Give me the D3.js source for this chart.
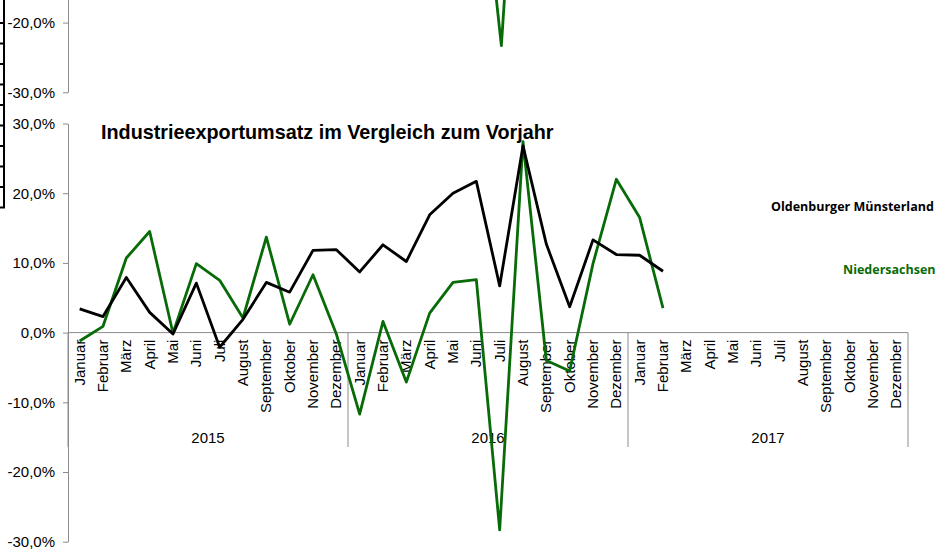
<!DOCTYPE html>
<html>
<head>
<meta charset="utf-8">
<script src="https://cdn.jsdelivr.net/npm/d3@7"></script>
<style>
  body { margin: 0; background: #fff; }
  svg { display: block; }
</style>
</head>
<body>
<svg id="chart" width="936" height="552"></svg>
<script>
// monate und jahre (mehrstufige kategorieachse)
const months = ["Januar", "Februar", "März", "April", "Mai", "Juni", "Juli",
  "August", "September", "Oktober", "November", "Dezember"];
const years = ["2015", "2016", "2017"];

// veränderung ggü. vorjahr in %, jan 2015 - feb 2017
const oldenburg = [3.4, 2.3, 7.9, 2.9, -0.2, 7.1, -2.1, 1.9, 7.2, 5.8, 11.8, 11.9,
  8.7, 12.6, 10.2, 16.9, 20.0, 21.7, 6.7, 26.8, 12.7, 3.7, 13.3, 11.2,
  11.1, 8.8];
const niedersachsen = [-1.2, 0.9, 10.7, 14.5, -0.1, 9.9, 7.5, 2.1, 13.7, 1.2, 8.3, -0.2,
  -11.7, 1.6, -7.1, 2.8, 7.2, 7.6, -28.3, 27.4, -4.0, -5.5, 9.9, 22.0,
  16.5, 3.5];

// alter stand vom diagramm oben (juni - august 2016), bleibt als rest sichtbar
const ghostIdx = [17, 18, 19];
const ghostVals = [7.6, -23.3, 27.4];

const yTicks = [30, 20, 10, 0, -10, -20, -30];

const svg = d3.select("#chart");
const fontAx = "'Liberation Sans', Arial, sans-serif";
const grey = "#8c8c8c";
const green = "#086b08";
const fmt = function(d) { return d3.format(".1f")(d).replace(".", ",").replace("−", "-") + "%"; };

const cats = [];
years.forEach(function(y) { months.forEach(function(m) { cats.push({m: m, y: y}); }); });

const x = d3.scaleBand().domain(d3.range(cats.length)).range([68, 908]);
const cx = function(i) { return x(i) + x.bandwidth() / 2; };
const y = d3.scaleLinear().domain([-30, 30]).range([541.7, 123.5]);
// verschobene kopie (ca. 449px hoeher)
const yG = d3.scaleLinear().domain([-30, 30]).range([541.7 - 449.4, 123.5 - 449.4]);

//////////////////////////////
// zellrahmen links (excel)
//////////////////////////////
const rows = d3.range(10).map(function(i) { return 23 + i * 20.5; });
svg.append("line").attr("x1", 4).attr("x2", 4).attr("y1", 0).attr("y2", rows[rows.length - 1])
  .attr("stroke", "#000").attr("stroke-width", 2);
svg.selectAll(".row").data(rows).enter().append("line")
  .attr("x1", 0).attr("x2", 5).attr("y1", function(d) { return d; }).attr("y2", function(d) { return d; })
  .attr("stroke", "#000").attr("stroke-width", 2);

// geister-achse oben
const gAxG = svg.append("g").attr("transform", "translate(68,0)")
  .call(d3.axisLeft(yG).tickValues([-20, -30]).tickSize(5).tickSizeOuter(0).tickFormat(fmt));
gAxG.selectAll("path, line").attr("stroke", grey);
gAxG.selectAll("text").attr("font-family", fontAx).attr("font-size", "15px").attr("fill", "#000").attr("x", -13);

svg.append("path")
  .datum(ghostIdx.map(function(d, k) { return [cx(d) + 1.7, yG(ghostVals[k])]; }))
  .attr("fill", "none").attr("stroke", green).attr("stroke-width", 2.8)
  .attr("stroke-linejoin", "round")
  .attr("d", d3.line());

//////////////////////////////
// y-achse
//////////////////////////////
const gAx = svg.append("g").attr("transform", "translate(68,0)")
  .call(d3.axisLeft(y).tickValues(yTicks).tickSize(5).tickSizeOuter(0).tickFormat(fmt));
gAx.selectAll("path, line").attr("stroke", grey);
gAx.selectAll("text").attr("font-family", fontAx).attr("font-size", "15px").attr("fill", "#000").attr("x", -13);

//////////////////////////////
// x-achse mit monaten und jahren
//////////////////////////////
svg.append("line").attr("x1", 68).attr("x2", 908).attr("y1", y(0)).attr("y2", y(0))
  .attr("stroke", grey);

svg.selectAll(".sep").data(d3.range(years.length + 1)).enter().append("line")
  .attr("x1", function(d) { return 68 + d * 12 * x.bandwidth(); })
  .attr("x2", function(d) { return 68 + d * 12 * x.bandwidth(); })
  .attr("y1", y(0)).attr("y2", 447)
  .attr("stroke", grey);

svg.selectAll(".mon").data(cats).enter().append("text")
  .attr("transform", function(d, i) { return "translate(" + (cx(i) + 5) + "," + (y(0) + 7) + ") rotate(-90)"; })
  .attr("text-anchor", "end")
  .attr("font-family", fontAx).attr("font-size", "15px").attr("fill", "#000")
  .text(function(d) { return d.m; });

svg.selectAll(".yr").data(years).enter().append("text")
  .attr("x", function(d, i) { return 68 + (i + 0.5) * 12 * x.bandwidth(); })
  .attr("y", 443)
  .attr("text-anchor", "middle")
  .attr("font-family", fontAx).attr("font-size", "15px").attr("fill", "#000")
  .text(function(d) { return d; });

// titel
svg.append("text")
  .attr("x", 101).attr("y", 139)
  .attr("font-family", fontAx).attr("font-size", "19.8px").attr("font-weight", "700")
  .attr("fill", "#000")
  .text("Industrieexportumsatz im Vergleich zum Vorjahr");

//////////////////////////////
// linien
//////////////////////////////
const line = d3.line()
  .x(function(d, i) { return cx(i); })
  .y(function(d) { return y(d); });

svg.append("path").datum(niedersachsen)
  .attr("fill", "none").attr("stroke", green).attr("stroke-width", 2.8)
  .attr("stroke-linejoin", "round")
  .attr("d", line);

svg.append("path").datum(oldenburg)
  .attr("fill", "none").attr("stroke", "#000").attr("stroke-width", 2.8)
  .attr("stroke-linejoin", "round")
  .attr("d", line);

// legende (rechts abgeschnitten wie im original)
svg.append("text")
  .attr("x", 771).attr("y", 211)
  .attr("font-family", "'Open Sans', sans-serif").attr("font-size", "12.5px").attr("font-weight", "700")
  .attr("fill", "#000")
  .text("Oldenburger Münsterland");

svg.append("text")
  .attr("x", 843).attr("y", 274)
  .attr("font-family", "'Open Sans', sans-serif").attr("font-size", "12.5px").attr("font-weight", "700")
  .attr("fill", green)
  .text("Niedersachsen");
</script>
</body>
</html>
